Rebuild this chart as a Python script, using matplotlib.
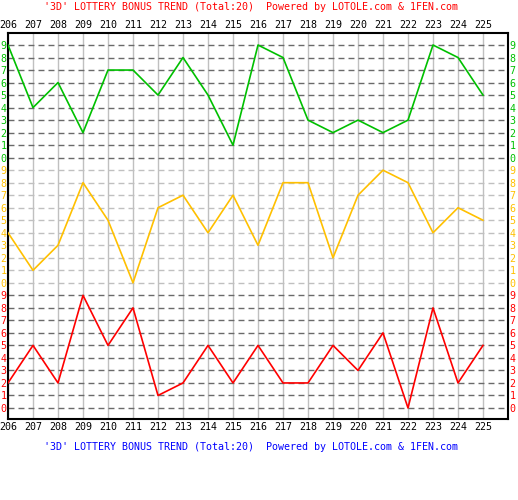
import matplotlib
matplotlib.use("Agg")
import matplotlib.pyplot as plt

plt.rcParams["font.family"] = ["DejaVu Sans Mono"]

# draw numbers
issues = list(range(206, 226))
green_vals = [9, 4, 6, 2, 7, 7, 5, 8, 5, 1, 9, 8, 3, 2, 3, 2, 3, 9, 8, 5]
orange_vals = [4, 1, 3, 8, 5, 0, 6, 7, 4, 7, 3, 8, 8, 2, 7, 9, 8, 4, 6, 5]
red_vals = [2, 5, 2, 9, 5, 8, 1, 2, 5, 2, 5, 2, 2, 5, 3, 6, 0, 8, 2, 5]

title_text = "'3D' LOTTERY BONUS TREND (Total:20)  Powered by LOTOLE.com & 1FEN.com"
footer_text = "'3D' LOTTERY BONUS TREND (Total:20)  Powered by LOTOLE.com & 1FEN.com"

GREEN = "#00C000"
ORANGE = "#FFC000"
RED = "#FF0000"

fig = plt.figure(figsize=(5.18, 5.0), dpi=100)
ax = fig.add_axes([8 / 518, 81 / 500, 500 / 518, 386 / 500])

# bands: red at bottom (0-9), orange (10-19), green (20-29)
bands = [(0, red_vals, RED, "#6A6A6A"),
         (10, orange_vals, ORANGE, "#C0C0C0"),
         (20, green_vals, GREEN, "#6A6A6A")]

# vertical grid
for x in issues:
    ax.axvline(x, color="#C0C0C0", lw=1.0, zorder=1)

# horizontal dashed grid
for off, vals, col, gcol in bands:
    for v in range(10):
        ax.axhline(off + v, color=gcol, lw=1.0, dashes=(4.3, 2.9), zorder=1)

for off, vals, col, gcol in bands:
    ax.plot(issues, [off + v for v in vals], color=col, lw=1.2, zorder=3)

ax.set_xlim(206, 226)
ax.set_ylim(-0.88, 29.96)

ax.set_xticks(issues)
ax.set_xticklabels([str(i) for i in issues])
ax.set_yticks(range(30))
ax.set_yticklabels([str(i % 10) for i in range(30)])

ax.tick_params(axis="x", which="both", length=0, top=True, labeltop=True,
               bottom=True, labelbottom=True, labelsize=7.2, pad=2, colors="black")
ax.tick_params(axis="y", which="both", length=0, left=True, labelleft=True,
               right=True, labelright=True, labelsize=7.2, pad=1)

for i, tick in enumerate(ax.yaxis.get_major_ticks()):
    col = [RED, ORANGE, GREEN][i // 10]
    tick.label1.set_color(col)
    tick.label2.set_color(col)

for s in ax.spines.values():
    s.set_color("black")
    s.set_linewidth(1.5)

fig.text(250.5 / 518, 1 - 7 / 500, title_text, color=RED, fontsize=7.2,
         ha="center", va="center")
fig.text(251.5 / 518, 1 - 447 / 500, footer_text, color="#0000FF", fontsize=7.2,
         ha="center", va="center")

fig.savefig("out.png", dpi=100, facecolor="white")
